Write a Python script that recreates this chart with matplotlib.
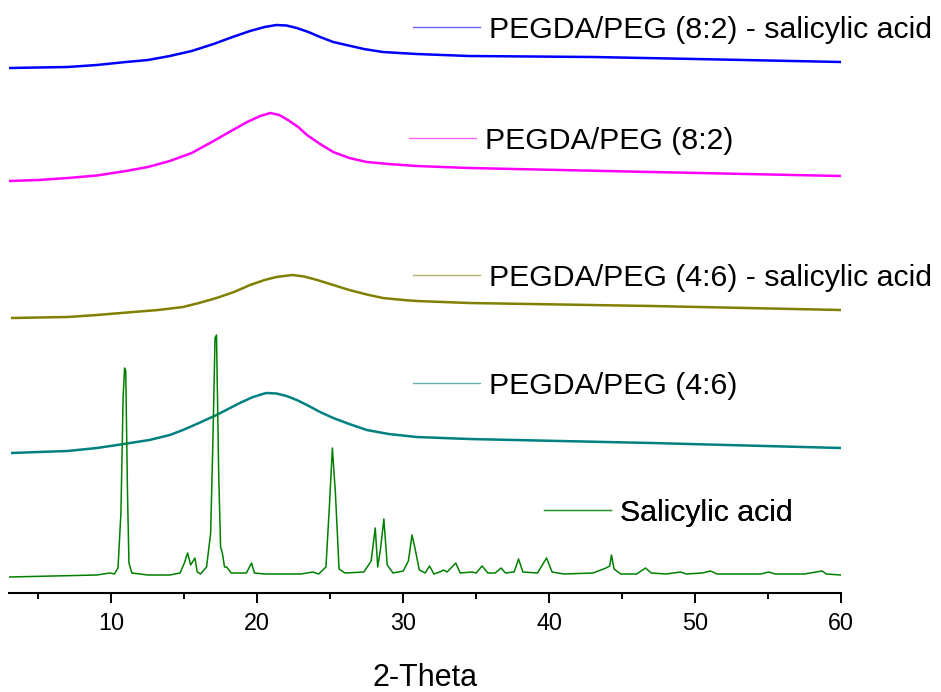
import matplotlib
matplotlib.use('Agg')
import matplotlib.pyplot as plt
import numpy as np
from matplotlib.ticker import MultipleLocator

plt.rcParams['font.family'] = ['Liberation Sans', 'DejaVu Sans']

# 2-theta / intensity (offset, arbitrary units)
pd82_sa_x = [3.0, 5.0, 7.0, 9.0, 11.0, 12.5, 14.0, 15.5, 17.0, 18.3, 19.5, 20.5, 21.3, 22.0,
             22.7, 23.5, 24.3, 25.2, 26.1, 27.3, 28.6, 30.9, 34.5, 43.0, 50.0, 60.0]
pd82_sa_y = [525, 525.5, 526, 528, 531, 533, 537, 542, 549, 556, 562, 566, 568, 567.5,
             565, 561, 556, 551, 548, 544, 541, 539, 537, 536, 534, 531]

pd82_x = [3.0, 5.0, 7.0, 9.0, 11.0, 12.5, 14.0, 15.5, 17.0, 18.2, 19.3, 20.2, 20.9, 21.5,
          22.1, 22.8, 23.4, 24.3, 25.2, 26.3, 27.5, 29.0, 30.9, 34.5, 47.0, 60.0]
pd82_y = [412, 413, 415, 417.5, 422, 426, 432, 440, 452, 462, 471, 477, 480, 478,
          473, 466, 458, 449, 441, 435, 431, 429, 427, 425, 421, 417]

pd46_sa_x = [3.2, 5.0, 7.0, 9.0, 11.5, 13.2, 14.9, 16.0, 17.2, 18.4, 19.5, 20.5, 21.3, 22.4,
             23.2, 24.1, 25.2, 26.3, 27.5, 28.6, 30.0, 30.9, 34.5, 47.0, 60.0]
pd46_sa_y = [275, 275.5, 276, 278, 281, 283, 286, 290, 295, 301, 308, 313, 316, 318,
             316.5, 313, 308, 303, 298.5, 295, 293, 292, 290, 287, 283]

pd46_x = [3.2, 5.0, 7.0, 9.0, 10.4, 12.6, 14.0, 14.9, 16.0, 17.2, 18.0, 18.8, 19.7, 20.6,
          21.3, 22.0, 22.7, 23.4, 24.3, 25.2, 26.3, 27.5, 29.0, 30.9, 34.5, 47.0, 60.0]
pd46_y = [140, 141, 142, 145, 148, 153, 158, 163, 170, 178, 184, 190, 196, 200,
          199.5, 197, 193, 188, 181, 175, 169, 163, 159, 156, 154, 150, 145]

sa = [(3.0, 16), (6.0, 17), (9.0, 18), (9.9, 20), (10.2, 19), (10.45, 25), (10.65, 80),
      (10.8, 195), (10.9, 225), (10.98, 222), (11.1, 100), (11.2, 30), (11.4, 20),
      (12.5, 18), (14.0, 18), (14.7, 20), (15.0, 30), (15.22, 40), (15.43, 28),
      (15.72, 35), (15.88, 21), (16.1, 19), (16.52, 26), (16.8, 60), (16.95, 150),
      (17.1, 255), (17.2, 258), (17.35, 120), (17.48, 46), (17.6, 40), (17.75, 26),
      (17.9, 26), (18.2, 20), (19.25, 20), (19.6, 30), (19.8, 20), (20.5, 19),
      (23.0, 19), (23.8, 21), (24.2, 19), (24.7, 26), (24.95, 90), (25.14, 145),
      (25.35, 100), (25.6, 24), (26.0, 20), (27.3, 21), (27.8, 32), (28.08, 65),
      (28.25, 26), (28.45, 45), (28.67, 74), (28.9, 28), (29.3, 20), (30.0, 22),
      (30.35, 32), (30.6, 58), (30.8, 45), (31.1, 23), (31.5, 20), (31.8, 27),
      (32.1, 19), (32.5, 21), (32.75, 23), (33.0, 21), (33.6, 30), (33.9, 20),
      (34.7, 21), (35.0, 20), (35.4, 27), (35.8, 20), (36.3, 20), (36.7, 25),
      (37.0, 20), (37.6, 21), (37.9, 34), (38.2, 21), (39.2, 20), (39.82, 35),
      (40.2, 21), (41.0, 19), (43.0, 20), (43.9, 25), (44.15, 27), (44.27, 38),
      (44.45, 24), (44.9, 19), (46.0, 19), (46.6, 25), (47.0, 20), (48.0, 19),
      (49.0, 21), (49.4, 19), (50.5, 20), (51.06, 22), (51.5, 19), (53.0, 19),
      (54.5, 19), (55.05, 21), (55.5, 19), (57.5, 19), (58.7, 22), (59.0, 19),
      (60.0, 18)]
sa_x = [p[0] for p in sa]
sa_y = [p[1] for p in sa]

series = [
    (pd82_sa_x, pd82_sa_y, '#0000FF', 'PEGDA/PEG (8:2) - salicylic acid', 1.8, (413, 30)),
    (pd82_x, pd82_y, '#FF00FF', 'PEGDA/PEG (8:2)', 1.8, (409, 141)),
    (pd46_sa_x, pd46_sa_y, '#808000', 'PEGDA/PEG (4:6) - salicylic acid', 1.8, (413, 278)),
    (pd46_x, pd46_y, '#008080', 'PEGDA/PEG (4:6)', 1.8, (413, 386)),
    (sa_x, sa_y, '#008000', 'Salicylic acid', 1.1, (544, 513)),
]

fig = plt.figure(figsize=(9.41, 6.92), dpi=100)
ax = fig.add_axes([9.3 / 941, 99 / 692, 831.7 / 941, 593 / 692])

for x, y, c, lab, lw, (px, py) in series:
    line, = ax.plot(x, y, color=c, linewidth=lw)
    # one small legend per curve, placed beside it
    key = plt.Line2D([], [], color=c, linewidth=1.0, alpha=0.6)
    leg = ax.legend([key], [lab], loc='center left',
                    bbox_to_anchor=((px - 9.3) / 831.7, (593 - py) / 593),
                    frameon=False, fontsize=21.8, handlelength=2.2,
                    handletextpad=0.3, borderpad=0, borderaxespad=0)
    ax.add_artist(leg)

ax.set_xlim(3, 60)
ax.set_ylim(0, 593)

for s in ['top', 'right', 'left']:
    ax.spines[s].set_visible(False)
ax.spines['bottom'].set_linewidth(1.5)
ax.set_yticks([])

ax.xaxis.set_major_locator(MultipleLocator(10))
ax.xaxis.set_minor_locator(MultipleLocator(5))
ax.tick_params(axis='x', which='major', direction='out', length=7.5, width=1.4,
               labelsize=16.8, pad=6)
ax.tick_params(axis='x', which='minor', direction='out', length=4, width=1.4)

ax.set_xlabel('2-Theta', fontsize=22, labelpad=20)

fig.savefig('out.png', dpi=100)
